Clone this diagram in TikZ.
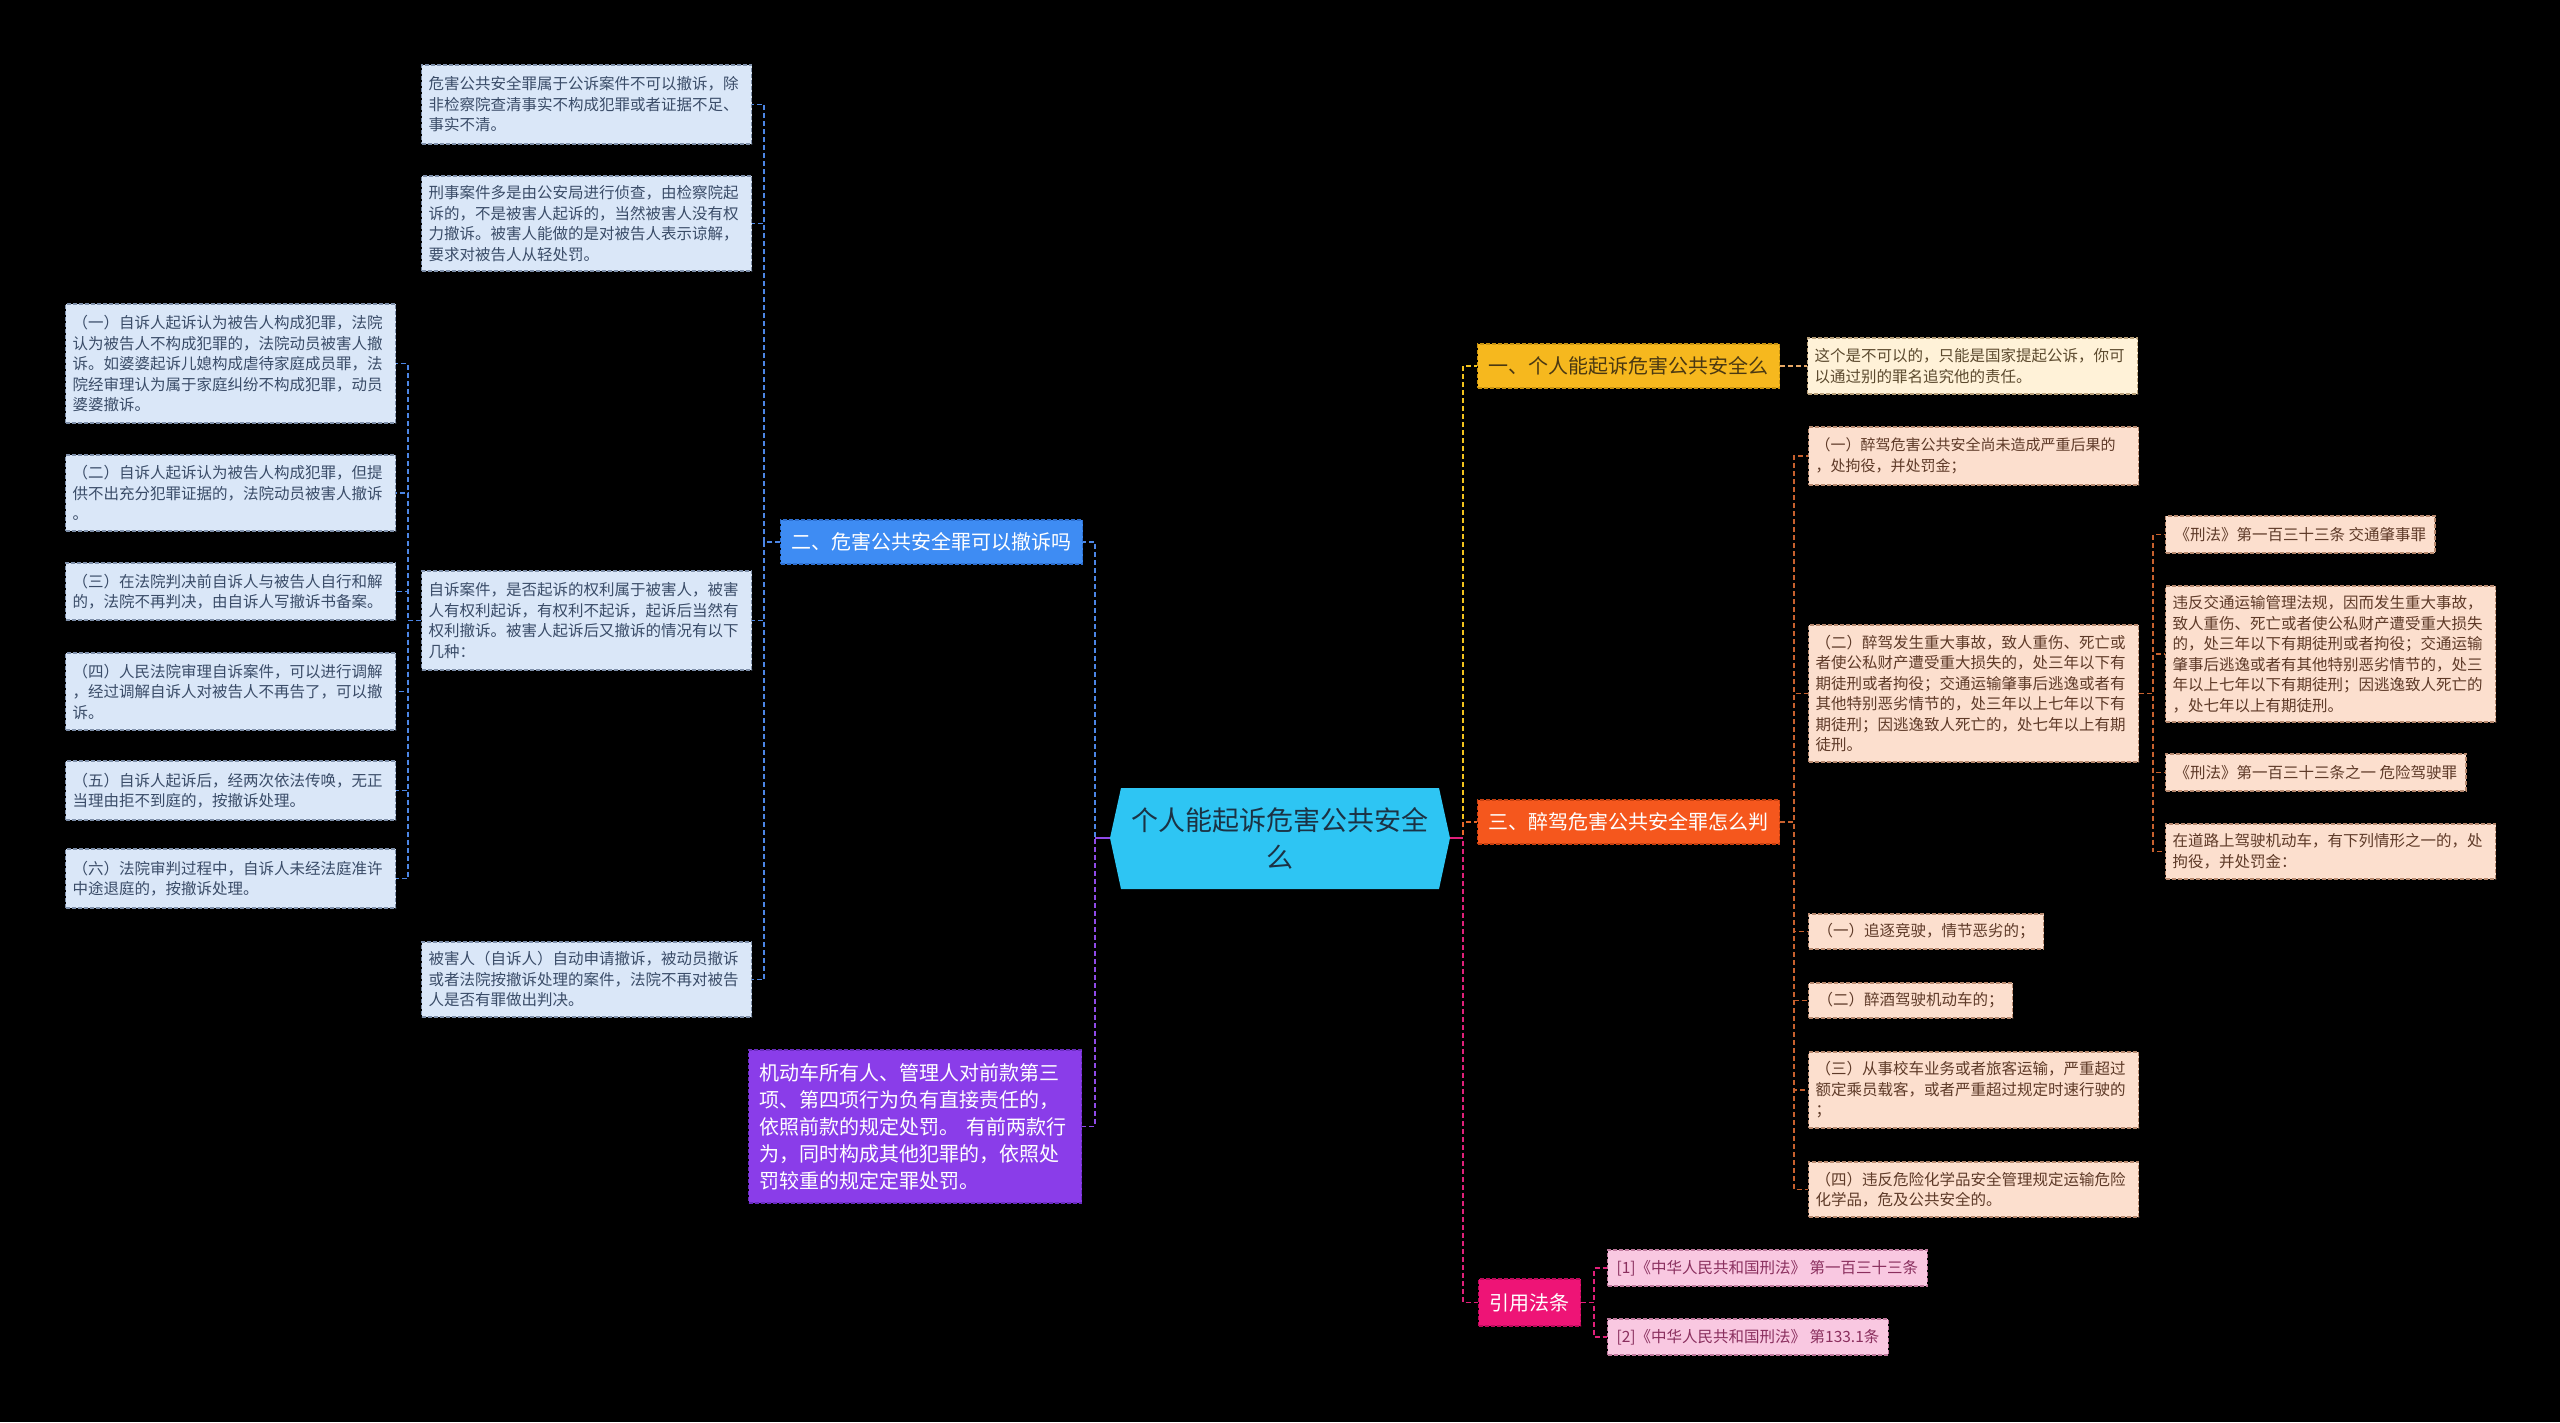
\documentclass[tikz,border=0pt]{standalone}
\usepackage{fontspec}
\setmainfont{Noto Sans CJK SC}
\usetikzlibrary{positioning}

% fills
\definecolor{rootc}{HTML}{2EC5F3}
\definecolor{roott}{HTML}{1B3244}
\definecolor{twoc}{HTML}{3E8CF3}
\definecolor{twod}{HTML}{2D6FD0}
\definecolor{purc}{HTML}{8A3DE9}
\definecolor{purd}{HTML}{6A2CC0}
\definecolor{noteb}{HTML}{DAE7F8}
\definecolor{notebd}{HTML}{7F90AA}
\definecolor{notebt}{HTML}{3A4C68}
\definecolor{onec}{HTML}{F6B81E}
\definecolor{oned}{HTML}{C99410}
\definecolor{onet}{HTML}{4A3812}
\definecolor{creamc}{HTML}{FFF2D8}
\definecolor{creamd}{HTML}{B8A07A}
\definecolor{creamt}{HTML}{5C4A2E}
\definecolor{threec}{HTML}{F5571D}
\definecolor{threed}{HTML}{C84010}
\definecolor{peachc}{HTML}{FCDFCE}
\definecolor{peachd}{HTML}{B88A70}
\definecolor{peacht}{HTML}{5E3A28}
\definecolor{citec}{HTML}{EE1476}
\definecolor{cited}{HTML}{C00A5C}
\definecolor{pinkc}{HTML}{F9C8E1}
\definecolor{pinkd}{HTML}{C07A9E}
\definecolor{pinkt}{HTML}{8A2F5E}
% links
\definecolor{blueln}{HTML}{4C86E6}
\definecolor{purln}{HTML}{8F4AE8}
\definecolor{yelln}{HTML}{F2C21C}
\definecolor{creamln}{HTML}{E8A866}
\definecolor{oranln}{HTML}{E8692A}
\definecolor{brownln}{HTML}{C8612E}
\definecolor{pinkln}{HTML}{E0207A}

\tikzset{
  box/.style        = {draw, line width=1.2pt, dash pattern=on 4pt off 2pt, anchor=west, align=left, inner xsep=7pt, inner ysep=3pt},
  note/.style       = {box, font=\fontsize{15.5}{20.5}\selectfont, text width=316pt},
  tag/.style        = {box, font=\fontsize{15.5}{20.5}\selectfont, inner xsep=9pt},
  topic/.style      = {box, font=\fontsize{20}{27}\selectfont, inner xsep=11pt, minimum height=44pt},
  lnk/.style        = {line width=1.6pt, dash pattern=on 5pt off 3pt},
  blue note/.style  = {note, fill=noteb, draw=notebd, text=notebt},
  cream note/.style = {note, fill=creamc, draw=creamd, text=creamt},
  peach note/.style = {note, fill=peachc, draw=peachd, text=peacht},
  peach tag/.style  = {tag, fill=peachc, draw=peachd, text=peacht},
  pink tag/.style   = {tag, fill=pinkc, draw=pinkd, text=pinkt}
}

\begin{document}
\begin{tikzpicture}[x=1pt, y=-1pt]
        \fill[black] (0,0) rectangle (2560,1422);
        \useasboundingbox (0,0) rectangle (2560,1422);

        % root
        \fill[rootc] (1110,838) -- (1121,788) -- (1439,788) -- (1450,838) -- (1439,889) -- (1121,889) -- cycle;
        \node[font=\fontsize{27}{37}\selectfont, text=roott, align=center, minimum width=340pt, minimum height=100pt, inner sep=0pt] (root) at (1280,838) {个人能起诉危害公共安全\\么};

        % left branch
        \node[topic, fill=twoc, draw=twod, text=white] (two) at (780,542) {二、危害公共安全罪可以撤诉吗};
        \node[topic, fill=purc, draw=purd, text=white, text width=311pt, minimum height=153pt] (car) at (748,1126.5) {机动车所有人、管理人对前款第三\\项、第四项行为负有直接责任的，\\依照前款的规定处罚。 有前两款行\\为，同时构成其他犯罪的，依照处\\罚较重的规定定罪处罚。};

        \node[blue note, minimum height=79pt] (t1) at (421,104.5) {危害公共安全罪属于公诉案件不可以撤诉，除\\非检察院查清事实不构成犯罪或者证据不足、\\事实不清。};
        \node[blue note, minimum height=95pt] (t2) at (421,223.5) {刑事案件多是由公安局进行侦查，由检察院起\\诉的，不是被害人起诉的，当然被害人没有权\\力撤诉。被害人能做的是对被告人表示谅解，\\要求对被告人从轻处罚。};
        \node[blue note, minimum height=99pt] (t3) at (421,620.5) {自诉案件，是否起诉的权利属于被害人，被害\\人有权利起诉，有权利不起诉，起诉后当然有\\权利撤诉。被害人起诉后又撤诉的情况有以下\\几种：};
        \node[blue note, minimum height=75pt] (t4) at (421,979.5) {被害人（自诉人）自动申请撤诉，被动员撤诉\\或者法院按撤诉处理的案件，法院不再对被告\\人是否有罪做出判决。};

        % cases under t3
        \node[blue note, minimum height=119pt] (l1) at (65,363.5) {（一）自诉人起诉认为被告人构成犯罪，法院\\认为被告人不构成犯罪的，法院动员被害人撤\\诉。如婆婆起诉儿媳构成虐待家庭成员罪，法\\院经审理认为属于家庭纠纷不构成犯罪，动员\\婆婆撤诉。};
        \node[blue note, minimum height=76pt] (l2) at (65,493) {（二）自诉人起诉认为被告人构成犯罪，但提\\供不出充分犯罪证据的，法院动员被害人撤诉\\。};
        \node[blue note, minimum height=57pt] (l3) at (65,591.5) {（三）在法院判决前自诉人与被告人自行和解\\的，法院不再判决，由自诉人写撤诉书备案。};
        \node[blue note, minimum height=77pt] (l4) at (65,691.5) {（四）人民法院审理自诉案件，可以进行调解\\，经过调解自诉人对被告人不再告了，可以撤\\诉。};
        \node[blue note, minimum height=59pt] (l5) at (65,790.5) {（五）自诉人起诉后，经两次依法传唤，无正\\当理由拒不到庭的，按撤诉处理。};
        \node[blue note, minimum height=59pt] (l6) at (65,878.5) {（六）法院审判过程中，自诉人未经法庭准许\\中途退庭的，按撤诉处理。};

        % right branch
        \node[topic, fill=onec, draw=oned, text=onet] (one) at (1477,366) {一、个人能起诉危害公共安全么};
        \node[cream note, minimum height=56pt] (c1) at (1807,366) {这个是不可以的，只能是国家提起公诉，你可\\以通过别的罪名追究他的责任。};

        \node[topic, fill=threec, draw=threed, text=white] (three) at (1477,822) {三、醉驾危害公共安全罪怎么判};
        \node[peach note, minimum height=58pt, font=\fontsize{15}{20.5}\selectfont] (d1) at (1808,456) {（一）醉驾危害公共安全尚未造成严重后果的\\，处拘役，并处罚金；};
        \node[peach note, minimum height=137pt] (d2) at (1808,693.5) {（二）醉驾发生重大事故，致人重伤、死亡或\\者使公私财产遭受重大损失的，处三年以下有\\期徒刑或者拘役；交通运输肇事后逃逸或者有\\其他特别恶劣情节的，处三年以上七年以下有\\期徒刑；因逃逸致人死亡的，处七年以上有期\\徒刑。};
        \node[peach tag, minimum height=35pt] (d3) at (1808,931.5) {（一）追逐竞驶，情节恶劣的；};
        \node[peach tag, minimum height=35pt] (d4) at (1808,1000.5) {（二）醉酒驾驶机动车的；};
        \node[peach note, minimum height=76pt] (d5) at (1808,1090) {（三）从事校车业务或者旅客运输，严重超过\\额定乘员载客，或者严重超过规定时速行驶的\\；};
        \node[peach note, minimum height=55pt] (d6) at (1808,1189.5) {（四）违反危险化学品安全管理规定运输危险\\化学品，危及公共安全的。};

        % articles under d2
        \node[peach tag, minimum height=37pt] (e1) at (2165,534.5) {《刑法》第一百三十三条 交通肇事罪};
        \node[peach note, minimum height=136pt] (e2) at (2165,654) {违反交通运输管理法规，因而发生重大事故，\\致人重伤、死亡或者使公私财产遭受重大损失\\的，处三年以下有期徒刑或者拘役；交通运输\\肇事后逃逸或者有其他特别恶劣情节的，处三\\年以上七年以下有期徒刑；因逃逸致人死亡的\\，处七年以上有期徒刑。};
        \node[peach tag, minimum height=37pt] (e3) at (2165,772.5) {《刑法》第一百三十三条之一 危险驾驶罪};
        \node[peach note, minimum height=55pt] (e4) at (2165,851.5) {在道路上驾驶机动车，有下列情形之一的，处\\拘役，并处罚金：};

        % citations
        \node[topic, fill=citec, draw=cited, text=white, minimum height=47pt] (cite) at (1478,1302.5) {引用法条};
        \node[pink tag, minimum height=36pt] (f1) at (1607,1268) {[1]《中华人民共和国刑法》 第一百三十三条};
        \node[pink tag, minimum height=36pt] (f2) at (1607,1337) {[2]《中华人民共和国刑法》 第133.1条};

        % links, left
        \draw[lnk, blueln] (root.west) -- ++(-15,0) |- (two.east);
        \draw[lnk, purln]  (root.west) -- ++(-15,0) |- (car.east);
        \draw[line width=1.6pt, purln] (root.west) -- ++(-15,0);
        \foreach \c in {t1,t2,t3,t4}
            \draw[lnk, blueln] (two.west) -- ++(-16,0) |- (\c.east);
        \foreach \c in {l1,l2,l3,l4,l5,l6}
            \draw[lnk, blueln] (t3.west) -- ++(-13,0) |- (\c.east);

        % links, right
        \draw[lnk, yelln]  (root.east) -- ++(13,0) |- (one.west);
        \draw[lnk, oranln] (root.east) -- ++(13,0) |- (three.west);
        \draw[lnk, pinkln] (root.east) -- ++(13,0) |- (cite.west);
        \draw[line width=1.6pt, pinkln] (root.east) -- ++(13,0);
        \draw[lnk, creamln] (one.east) -- (c1.west);
        \foreach \c in {d1,d2,d3,d4,d5,d6}
            \draw[lnk, brownln] (three.east) -- ++(14,0) |- (\c.west);
        \foreach \c in {e1,e2,e3,e4}
            \draw[lnk, brownln] (d2.east) -- ++(14,0) |- (\c.west);
        \foreach \c in {f1,f2}
            \draw[lnk, pinkln] (cite.east) -- ++(13,0) |- (\c.west);
    \end{tikzpicture}
\end{document}
